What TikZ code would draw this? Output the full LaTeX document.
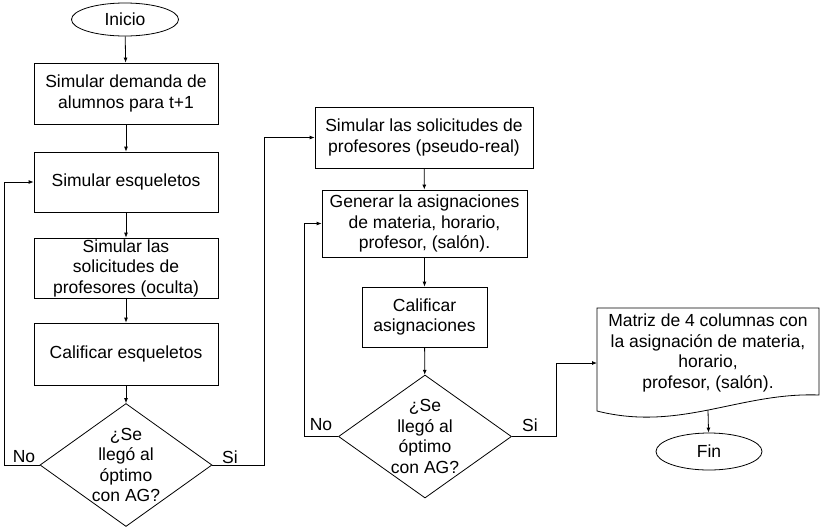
\documentclass[tikz,border=0pt]{standalone}
\usepackage{fontspec}
\setmainfont{Liberation Sans}
\usetikzlibrary{shapes.geometric,arrows.meta}

\begin{document}
\begin{tikzpicture}[x=1pt,y=-1pt,
  every node/.style={font=\fontsize{17.5}{20.5}\selectfont,align=center,inner sep=1pt},
  proc/.style={draw,rectangle,line width=0.8pt},
  term/.style={draw,ellipse,line width=0.8pt,inner sep=0pt},
  decision/.style={draw,diamond,line width=0.8pt,inner sep=0pt,minimum width=172pt,minimum height=123pt},
  qtext/.style={align=center,inner sep=0pt},
  arr/.style={-{Latex[length=5pt,width=4pt]},line width=0.8pt}]
\useasboundingbox (0,0) rectangle (824,531);

\node[term,minimum width=107pt,minimum height=33pt] (ini) at (125,19.5) {Inicio};
\node[proc,minimum width=184pt,minimum height=61pt] (demanda) at (126,93.5) {Simular demanda de\\alumnos para t+1};
\node[proc,minimum width=184pt,minimum height=60pt] (esq) at (126,182) {Simular esqueletos};
\node[proc,minimum width=184pt,minimum height=60pt] (oculta) at (126,268) {Simular las\\solicitudes de\\profesores (oculta)};
\node[proc,minimum width=184pt,minimum height=62pt] (califesq) at (126,354) {Calificar esqueletos};
\node[decision,label={[qtext]center:¿Se\\llegó al\\óptimo\\con AG?}] (dec1) at (126,465) {};

\node[proc,minimum width=218pt,minimum height=61pt] (pseudo) at (424,137.5) {Simular las solicitudes de\\profesores (pseudo-real)};
\node[proc,minimum width=205pt,minimum height=67pt] (genera) at (424.5,223.5) {Generar la asignaciones\\de materia, horario,\\profesor, (salón).};
\node[proc,minimum width=125pt,minimum height=60pt] (califasig) at (424.5,317) {Calificar\\asignaciones};
\node[decision,minimum width=173pt,label={[qtext]center:¿Se\\llegó al\\óptimo\\con AG?}] (dec2) at (425,436.5) {};

\draw[line width=0.8pt] (597,308) -- (819,308) -- (819,395) .. controls (740,392) and (680,432) .. (597,411) -- cycle;
\node[minimum width=222pt,minimum height=87pt] (matriz) at (708,353) {Matriz de 4 columnas con\\la asignación de materia,\\horario,\\profesor, (salón).};
\coordinate (matrizin) at (597,363);
\coordinate (matrizout) at (708,410);
\node[term,minimum width=106pt,minimum height=37pt] (fin) at (709,451.5) {Fin};

\node (no1) at (24,457) {No};
\node (si1) at (230,457) {Si};
\node (no2) at (321,425) {No};
\node (si2) at (530,425) {Si};

\draw[arr] (ini) -- (demanda);
\draw[arr] (demanda) -- (esq);
\draw[arr] (esq) -- (oculta);
\draw[arr] (oculta) -- (califesq);
\draw[arr] (califesq) -- (dec1);
\draw[arr] (dec1.west) -- ++(-35,0) |- (esq.west);
\draw[arr] (dec1.east) -- ++(52,0) |- (pseudo.west);
\draw[arr] (pseudo) -- (genera);
\draw[arr] (genera) -- (califasig);
\draw[arr] (califasig) -- (dec2);
\draw[arr] (dec2.west) -- ++(-34,0) |- (genera.west);
\draw[arr] (dec2.east) -- ++(44,0) |- (matrizin);
\draw[arr] (matrizout) -- (fin);
\end{tikzpicture}
\end{document}
